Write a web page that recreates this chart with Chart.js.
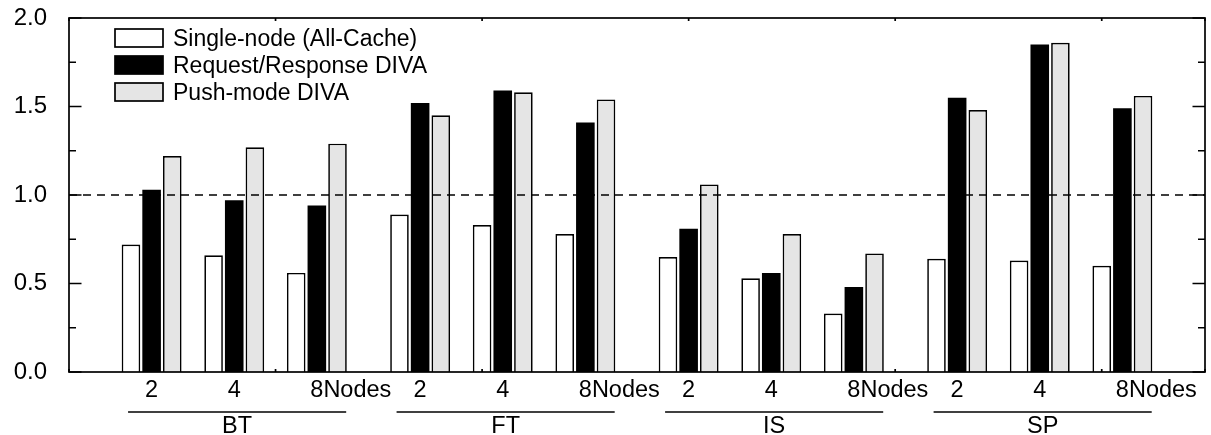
<!DOCTYPE html>
<html>
<head>
<meta charset="utf-8">
<script src="https://cdn.jsdelivr.net/npm/chart.js@4"></script>
<style>
  html, body { margin: 0; padding: 0; background: #ffffff; }
  #wrap { width: 1211px; height: 435px; }
</style>
</head>
<body>
<div id="wrap"><canvas id="chart" width="1211" height="435"></canvas></div>
<script>
// Benchmarks and node counts along the x axis
const benchmarks = ['BT', 'FT', 'IS', 'SP'];
const nodeCounts = ['2', '4', '8'];
const nodeSuffix = 'Nodes';

// Series names
const seriesNames = ['Single-node (All-Cache)', 'Request/Response DIVA', 'Push-mode DIVA'];

// Values per benchmark, in node-count order (BT 2,4,8 | FT 2,4,8 | IS 2,4,8 | SP 2,4,8)
const singleNode      = [0.72, 0.66, 0.56,  0.89, 0.83, 0.78,  0.65, 0.53, 0.33,  0.64, 0.63, 0.60];
const requestResponse = [1.03, 0.97, 0.94,  1.52, 1.59, 1.41,  0.81, 0.56, 0.48,  1.55, 1.85, 1.49];
const pushMode        = [1.22, 1.27, 1.29,  1.45, 1.58, 1.54,  1.06, 0.78, 0.67,  1.48, 1.86, 1.56];

// Y axis tick labels and the reference level
const yTickLabels = ['0.0', '0.5', '1.0', '1.5', '2.0'];
const referenceLevel = 1.0;

// Layout of the x axis: each node count takes one slot, benchmarks are separated by a small gap
const slotStep = 2;
const groupGap = 0.5;
const groupStride = nodeCounts.length * slotStep + groupGap;
function slotX(g, i) { return slotStep * (i + 1) + g * groupStride; }
const xMax = slotX(benchmarks.length - 1, nodeCounts.length - 1) + slotStep;

function toPoints(values) {
  return values.map((v, k) => ({
    x: slotX(Math.floor(k / nodeCounts.length), k % nodeCounts.length),
    y: v
  }));
}

const FONT = '"Liberation Sans", Arial, Helvetica, sans-serif';
const LINE = 1.7;

// Frame, inward tick marks, reference line, category labels and legend
const decorations = {
  id: 'decorations',
  afterDatasetsDraw(chart) {
    const ctx = chart.ctx;
    const area = chart.chartArea;
    const xs = chart.scales.x;
    const ys = chart.scales.y;
    ctx.save();
    ctx.strokeStyle = '#000';
    ctx.fillStyle = '#000';

    // dashed reference line
    const yRef = ys.getPixelForValue(referenceLevel);
    ctx.lineWidth = 1.6;
    ctx.setLineDash([8, 6]);
    ctx.beginPath();
    ctx.moveTo(area.left, yRef);
    ctx.lineTo(area.right, yRef);
    ctx.stroke();
    ctx.setLineDash([]);

    // frame
    ctx.lineWidth = LINE;
    ctx.strokeRect(area.left, area.top, area.right - area.left, area.bottom - area.top);

    // y ticks (major at labelled values, minor between), mirrored on the right
    ys.ticks.forEach(t => {
      const major = Math.abs(t.value * 2 - Math.round(t.value * 2)) < 1e-6;
      const len = major ? 12.5 : 7;
      const py = ys.getPixelForValue(t.value);
      ctx.beginPath();
      ctx.moveTo(area.left, py); ctx.lineTo(area.left + len, py);
      ctx.moveTo(area.right, py); ctx.lineTo(area.right - len, py);
      ctx.stroke();
    });

    // x ticks, short and inward, top and bottom
    xs.ticks.forEach(t => {
      const px = xs.getPixelForValue(t.value);
      ctx.beginPath();
      ctx.moveTo(px, area.bottom); ctx.lineTo(px, area.bottom - 3);
      ctx.moveTo(px, area.top); ctx.lineTo(px, area.top + 3);
      ctx.stroke();
    });

    // node count labels under each bar group
    ctx.font = '23.5px ' + FONT;
    ctx.textBaseline = 'alphabetic';
    benchmarks.forEach((b, g) => {
      nodeCounts.forEach((n, i) => {
        const px = xs.getPixelForValue(slotX(g, i));
        if (i === nodeCounts.length - 1) {
          ctx.textAlign = 'left';
          ctx.fillText(n + nodeSuffix, px - ctx.measureText(n).width / 2, 397);
        } else {
          ctx.textAlign = 'center';
          ctx.fillText(n, px, 397);
        }
      });
    });

    // benchmark underline and name
    benchmarks.forEach((b, g) => {
      const x0 = xs.getPixelForValue(slotX(g, 0) - 0.57);
      const x1 = xs.getPixelForValue(slotX(g, nodeCounts.length - 1) + 0.71);
      ctx.lineWidth = LINE;
      ctx.beginPath();
      ctx.moveTo(x0, 412); ctx.lineTo(x1, 412);
      ctx.stroke();
      ctx.textAlign = 'center';
      ctx.fillText(b, (x0 + x1) / 2, 433);
    });

    // legend inside the plot, top left
    const lx = area.left + 46;
    const ly = area.top + 11;
    const rowH = 27;
    ctx.font = '23px ' + FONT;
    ctx.textAlign = 'left';
    chart.data.datasets.forEach((ds, k) => {
      const top = ly + k * rowH;
      ctx.fillStyle = ds.backgroundColor;
      ctx.fillRect(lx, top, 48, 18);
      ctx.lineWidth = LINE;
      ctx.strokeStyle = '#000';
      ctx.strokeRect(lx, top, 48, 18);
      ctx.fillStyle = '#000';
      ctx.fillText(ds.label, lx + 58, top + 17);
    });

    ctx.restore();
  }
};

new Chart(document.getElementById('chart'), {
  type: 'bar',
  data: {
    datasets: [
      { label: seriesNames[0], data: toPoints(singleNode), backgroundColor: '#ffffff', borderColor: '#000000', borderWidth: LINE },
      { label: seriesNames[1], data: toPoints(requestResponse), backgroundColor: '#000000', borderColor: '#000000', borderWidth: 0 },
      { label: seriesNames[2], data: toPoints(pushMode), backgroundColor: '#e5e5e5', borderColor: '#000000', borderWidth: LINE }
    ]
  },
  options: {
    responsive: false,
    animation: false,
    devicePixelRatio: 1,
    layout: { padding: { top: 18, right: 6, left: 0, bottom: 0 } },
    datasets: { bar: { categoryPercentage: 0.75, barPercentage: 0.9, borderSkipped: 'start' } },
    plugins: { legend: { display: false }, tooltip: { enabled: false } },
    scales: {
      x: {
        type: 'linear', min: 0, max: xMax, offset: false,
        grid: { display: false, drawTicks: false },
        border: { display: false },
        ticks: { display: false, stepSize: 5 },
        afterFit(s) { s.height = 63; s.paddingLeft = 0; s.paddingRight = 0; }
      },
      y: {
        min: 0, max: 2,
        grid: { display: false, drawTicks: false },
        border: { display: false },
        ticks: {
          stepSize: 0.25,
          padding: 22,
          color: '#000',
          font: { family: FONT, size: 24 },
          callback(v) {
            const k = Math.round(v * 2);
            return Math.abs(v * 2 - k) < 1e-6 ? yTickLabels[k] : '';
          }
        },
        afterFit(s) { s.width = 69; s.paddingTop = 0; s.paddingBottom = 0; }
      }
    }
  },
  plugins: [decorations]
});
</script>
</body>
</html>
